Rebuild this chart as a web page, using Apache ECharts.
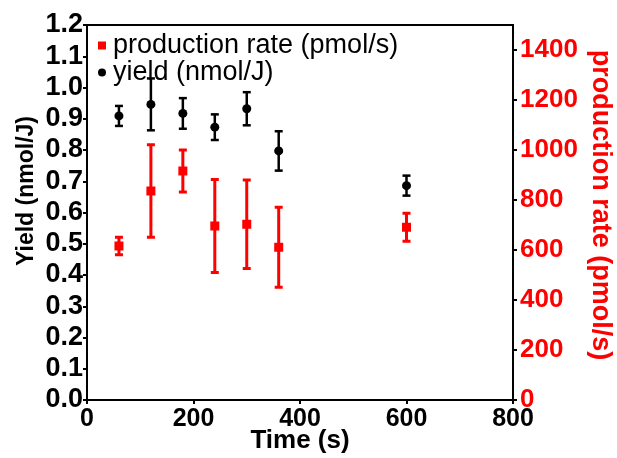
<!DOCTYPE html>
<html><head><meta charset="utf-8">
<script src="https://cdn.jsdelivr.net/npm/echarts@6/dist/echarts.min.js"></script>
<style>html,body{margin:0;padding:0;background:#fff}#c{width:617px;height:458px}</style>
</head><body><div id="c"></div>
<script>
const times = [60, 120, 180, 240, 300, 360, 600];
const yieldVals = [0.909, 0.946, 0.917, 0.873, 0.932, 0.797, 0.686];
const yieldErr = [0.032, 0.083, 0.049, 0.041, 0.053, 0.063, 0.032];
const rateVals = [616, 836, 916, 696, 703, 611, 691];
const rateErr = [35, 185, 84, 186, 177, 160, 56];
const xTicks = [0, 200, 400, 600, 800];

const FONT = 'Liberation Sans, Arial, sans-serif';
const chart = echarts.init(document.getElementById('c'), null, {renderer: 'canvas'});

function errData(vals, errs) {
  return times.map((t, i) => [t, vals[i] - errs[i], vals[i] + errs[i]]);
}
function errRender(color, lw) {
  return function (params, api) {
    const x = api.value(0);
    const lo = api.coord([x, api.value(1)]);
    const hi = api.coord([x, api.value(2)]);
    const cw = 4;
    const st = {stroke: color, lineWidth: lw};
    return {
      type: 'group',
      children: [
        {type: 'line', shape: {x1: lo[0], y1: lo[1], x2: hi[0], y2: hi[1]}, style: st},
        {type: 'line', shape: {x1: lo[0] - cw, y1: lo[1], x2: lo[0] + cw, y2: lo[1]}, style: st},
        {type: 'line', shape: {x1: hi[0] - cw, y1: hi[1], x2: hi[0] + cw, y2: hi[1]}, style: st}
      ]
    };
  };
}

chart.setOption({
  animation: false,
  backgroundColor: '#fff',
  grid: {left: 87, right: 104, top: 25, bottom: 58, show: true, borderColor: '#000', borderWidth: 2,
    containLabel: false, outerBoundsMode: 'none'},
  legend: {
    orient: 'vertical', left: 93, top: 27, itemGap: 0, itemWidth: 8, itemHeight: 8,
    textStyle: {fontFamily: FONT, fontSize: 27, color: '#000', lineHeight: 20, padding: [0, 0, 0, 2]},
    data: [
      {name: 'production rate (pmol/s)', icon: 'rect'},
      {name: 'yield (nmol/J)', icon: 'circle'}
    ]
  },
  graphic: [
    {type: 'text', x: 27, y: 191, rotation: Math.PI / 2, z: 10,
      style: {text: 'Yield (nmol/J)', font: 'bold 23px ' + FONT, fill: '#000', align: 'center', verticalAlign: 'middle'}},
    {type: 'text', x: 600, y: 205, rotation: -Math.PI / 2, z: 10,
      style: {text: 'production rate (pmol/s)', font: 'bold 27px ' + FONT, fill: '#ff0000', align: 'center', verticalAlign: 'middle'}}
  ],
  xAxis: {
    type: 'value', min: 0, max: 800, interval: 200,
    name: 'Time (s)', nameLocation: 'middle', nameGap: 28, nameMoveOverlap: false,
    nameTextStyle: {fontFamily: FONT, fontSize: 26, fontWeight: 'bold', color: '#000'},
    axisLine: {show: true, onZero: false, lineStyle: {color: '#000', width: 2}},
    axisTick: {show: true, length: 4, lineStyle: {color: '#000', width: 2}},
    axisLabel: {fontFamily: FONT, fontSize: 25, fontWeight: 'bold', color: '#000', margin: 7,
      formatter: v => xTicks.includes(v) ? String(v) : ''},
    splitLine: {show: false}
  },
  yAxis: [
    {
      type: 'value', min: 0, max: 1.2, interval: 0.1,
      axisLine: {show: true, onZero: false, lineStyle: {color: '#000', width: 2}},
      axisTick: {show: true, length: 4, lineStyle: {color: '#000', width: 2}},
      axisLabel: {fontFamily: FONT, fontSize: 27, fontWeight: 'bold', color: '#000', margin: 4,
        formatter: v => v.toFixed(1)},
      splitLine: {show: false}
    },
    {
      type: 'value', min: 0, max: 1500, interval: 200, position: 'right',
      axisLine: {show: true, onZero: false, lineStyle: {color: '#000', width: 2}},
      axisTick: {show: true, length: 4, lineStyle: {color: '#000', width: 2}},
      axisLabel: {fontFamily: FONT, fontSize: 26, fontWeight: 'bold', color: '#ff0000', margin: 7,
        showMaxLabel: false, formatter: v => (v % 200 === 0 ? String(v) : '')},
      splitLine: {show: false}
    }
  ],
  series: [
    {
      name: 'yield-err', type: 'custom', xAxisIndex: 0, yAxisIndex: 0,
      renderItem: errRender('#000', 2.5), data: errData(yieldVals, yieldErr), z: 2, silent: true
    },
    {
      name: 'rate-err', type: 'custom', xAxisIndex: 0, yAxisIndex: 1,
      renderItem: errRender('#ff0000', 3), data: errData(rateVals, rateErr), z: 2, silent: true
    },
    {
      name: 'production rate (pmol/s)', type: 'scatter', yAxisIndex: 1, symbol: 'rect', symbolSize: 9,
      itemStyle: {color: '#ff0000', opacity: 1}, z: 3,
      data: times.map((t, i) => [t, rateVals[i]])
    },
    {
      name: 'yield (nmol/J)', type: 'scatter', yAxisIndex: 0, symbol: 'circle', symbolSize: 9,
      itemStyle: {color: '#000', opacity: 1}, z: 3,
      data: times.map((t, i) => [t, yieldVals[i]])
    }
  ]
});
</script></body></html>
